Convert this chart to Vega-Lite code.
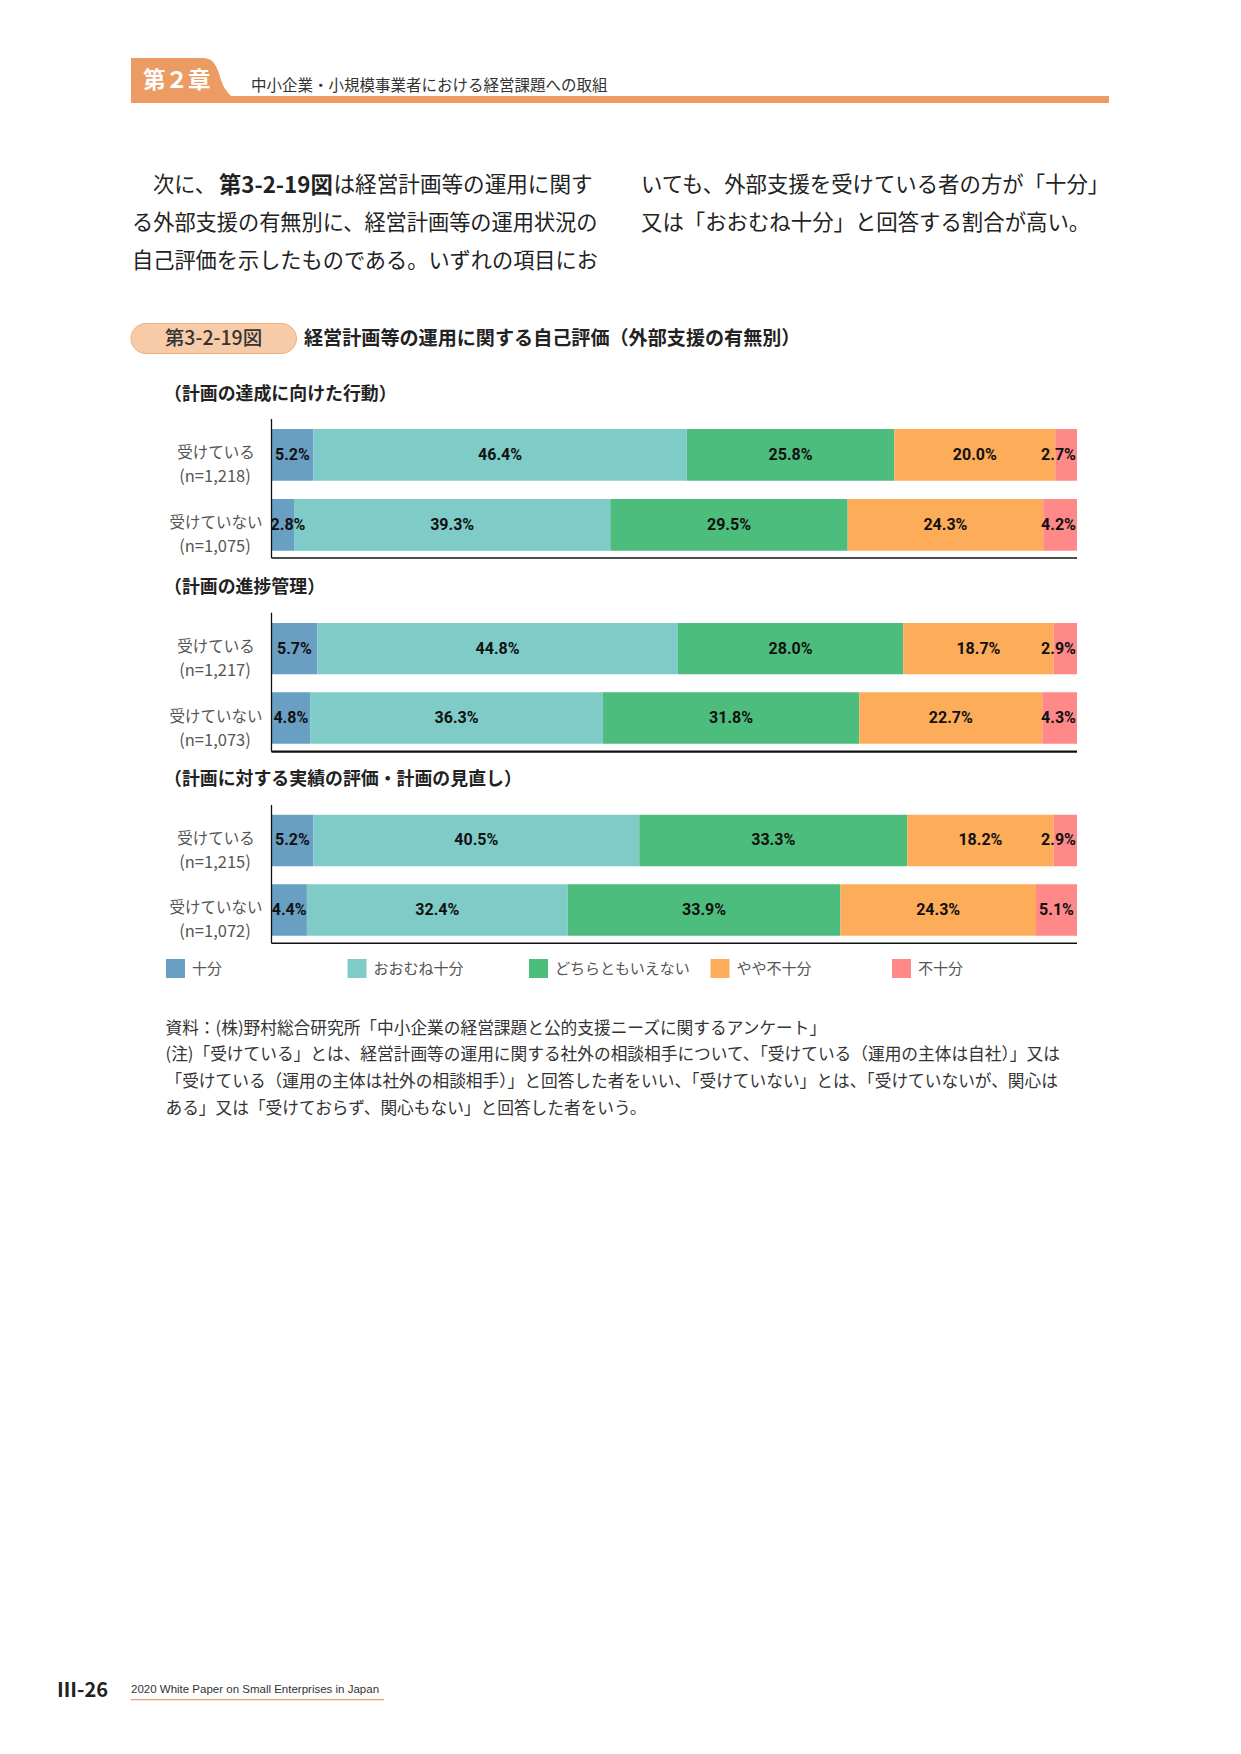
{
  "$schema": "https://vega.github.io/schema/vega-lite/v6.json",
  "width": 1241,
  "height": 1754,
  "autosize": "none",
  "padding": 0,
  "background": "white",
  "config": {
    "view": {"stroke": null},
    "text": {"font": "Noto Sans CJK JP", "color": "#222"}
  },
  "data": {"values": [{}]},
  "datasets": {
    "shares": [
      {"panel": 1, "group": "受けている", "cat": "十分", "pct": 5.2},
      {"panel": 1, "group": "受けている", "cat": "おおむね十分", "pct": 46.4},
      {"panel": 1, "group": "受けている", "cat": "どちらともいえない", "pct": 25.8},
      {"panel": 1, "group": "受けている", "cat": "やや不十分", "pct": 20.0},
      {"panel": 1, "group": "受けている", "cat": "不十分", "pct": 2.7},
      {"panel": 1, "group": "受けていない", "cat": "十分", "pct": 2.8},
      {"panel": 1, "group": "受けていない", "cat": "おおむね十分", "pct": 39.3},
      {"panel": 1, "group": "受けていない", "cat": "どちらともいえない", "pct": 29.5},
      {"panel": 1, "group": "受けていない", "cat": "やや不十分", "pct": 24.3},
      {"panel": 1, "group": "受けていない", "cat": "不十分", "pct": 4.2},
      {"panel": 2, "group": "受けている", "cat": "十分", "pct": 5.7},
      {"panel": 2, "group": "受けている", "cat": "おおむね十分", "pct": 44.8},
      {"panel": 2, "group": "受けている", "cat": "どちらともいえない", "pct": 28.0},
      {"panel": 2, "group": "受けている", "cat": "やや不十分", "pct": 18.7},
      {"panel": 2, "group": "受けている", "cat": "不十分", "pct": 2.9},
      {"panel": 2, "group": "受けていない", "cat": "十分", "pct": 4.8},
      {"panel": 2, "group": "受けていない", "cat": "おおむね十分", "pct": 36.3},
      {"panel": 2, "group": "受けていない", "cat": "どちらともいえない", "pct": 31.8},
      {"panel": 2, "group": "受けていない", "cat": "やや不十分", "pct": 22.7},
      {"panel": 2, "group": "受けていない", "cat": "不十分", "pct": 4.3},
      {"panel": 3, "group": "受けている", "cat": "十分", "pct": 5.2},
      {"panel": 3, "group": "受けている", "cat": "おおむね十分", "pct": 40.5},
      {"panel": 3, "group": "受けている", "cat": "どちらともいえない", "pct": 33.3},
      {"panel": 3, "group": "受けている", "cat": "やや不十分", "pct": 18.2},
      {"panel": 3, "group": "受けている", "cat": "不十分", "pct": 2.9},
      {"panel": 3, "group": "受けていない", "cat": "十分", "pct": 4.4},
      {"panel": 3, "group": "受けていない", "cat": "おおむね十分", "pct": 32.4},
      {"panel": 3, "group": "受けていない", "cat": "どちらともいえない", "pct": 33.9},
      {"panel": 3, "group": "受けていない", "cat": "やや不十分", "pct": 24.3},
      {"panel": 3, "group": "受けていない", "cat": "不十分", "pct": 5.1}
    ],
    "samples": [
      {"panel": 1, "group": "受けている", "n": 1218},
      {"panel": 1, "group": "受けていない", "n": 1075},
      {"panel": 2, "group": "受けている", "n": 1217},
      {"panel": 2, "group": "受けていない", "n": 1073},
      {"panel": 3, "group": "受けている", "n": 1215},
      {"panel": 3, "group": "受けていない", "n": 1072}
    ]
  },
  "resolve": {"scale": {"y": "independent"}},
  "layer": [
    {"mark": {"type": "rect", "x": 131, "x2": 1109, "y": 96, "y2": 103, "fill": "#EC9C62"}},
    {"mark": {"type": "point", "x": 183, "y": 79, "size": 14400, "filled": true, "fill": "#EC9C62", "opacity": 1, "strokeWidth": 0,
      "shape": "M -0.867 -0.35 L 0.333 -0.35 C 0.617 -0.35 0.583 0.017 0.717 0.183 C 0.783 0.283 0.85 0.333 0.95 0.333 L 0.95 0.35 L -0.867 0.35 Z"}},
    {"mark": {"type": "text", "text": "第２章", "x": 143, "y": 81, "align": "left", "baseline": "middle", "fontSize": 22.5, "fontWeight": "bold", "color": "white"}},
    {"mark": {"type": "text", "text": "中小企業・小規模事業者における経営課題への取組", "x": 251, "y": 85.5, "align": "left", "baseline": "middle", "fontSize": 15.5, "color": "#333"}},

    {"mark": {"type": "text", "text": "次に、", "x": 153, "y": 186, "align": "left", "baseline": "middle", "fontSize": 21.2}},
    {"mark": {"type": "text", "text": "第3-2-19図", "x": 219, "y": 186, "align": "left", "baseline": "middle", "fontSize": 22.3, "fontWeight": "bold"}},
    {"mark": {"type": "text", "text": "は経営計画等の運用に関す", "x": 333.5, "y": 186, "align": "left", "baseline": "middle", "fontSize": 21.6}},
    {"mark": {"type": "text", "text": "る外部支援の有無別に、経営計画等の運用状況の", "x": 132, "y": 224, "align": "left", "baseline": "middle", "fontSize": 21.2}},
    {"mark": {"type": "text", "text": "自己評価を示したものである。いずれの項目にお", "x": 132, "y": 262, "align": "left", "baseline": "middle", "fontSize": 21.2}},
    {"mark": {"type": "text", "text": "いても、外部支援を受けている者の方が「十分」", "x": 641, "y": 186, "align": "left", "baseline": "middle", "fontSize": 21.4}},
    {"mark": {"type": "text", "text": "又は「おおむね十分」と回答する割合が高い。", "x": 641, "y": 224, "align": "left", "baseline": "middle", "fontSize": 21.4}},

    {"mark": {"type": "rect", "x": 131, "x2": 296.5, "y": 323.5, "y2": 353.5, "cornerRadius": 15, "fill": "#F8CBA8", "stroke": "#EFAE82", "strokeWidth": 1}},
    {"mark": {"type": "text", "text": "第3-2-19図", "x": 213.5, "y": 338.5, "align": "center", "baseline": "middle", "fontSize": 19.5, "fontWeight": 500, "color": "#333"}},
    {"mark": {"type": "text", "text": "経営計画等の運用に関する自己評価（外部支援の有無別）", "x": 304, "y": 338.5, "align": "left", "baseline": "middle", "fontSize": 19.1, "fontWeight": "bold", "color": "#222"}},

    {"mark": {"type": "text", "text": "（計画の達成に向けた行動）", "x": 164, "y": 395, "align": "left", "baseline": "middle", "fontSize": 17.9, "fontWeight": "bold"}},
    {"mark": {"type": "text", "text": "（計画の進捗管理）", "x": 164, "y": 587.5, "align": "left", "baseline": "middle", "fontSize": 17.9, "fontWeight": "bold"}},
    {"mark": {"type": "text", "text": "（計画に対する実績の評価・計画の見直し）", "x": 164, "y": 780, "align": "left", "baseline": "middle", "fontSize": 17.9, "fontWeight": "bold"}},

    {
      "layer": [
        {
          "data": {"name": "shares"},
          "transform": [
            {"filter": "datum.panel == 1"},
            {"calculate": "indexof(['十分','おおむね十分','どちらともいえない','やや不十分','不十分'], datum.cat)", "as": "k"},
            {"stack": "pct", "groupby": ["group"], "sort": [{"field": "k", "order": "ascending"}], "offset": "normalize", "as": ["x0", "x1"]}
          ],
          "mark": {"type": "bar"},
          "encoding": {
            "x": {"field": "x0", "type": "quantitative", "scale": {"domain": [0, 1], "range": [271.5, 1077], "nice": false}, "axis": null},
            "x2": {"field": "x1"},
            "y": {"field": "group", "type": "nominal", "scale": {"domain": ["受けている", "受けていない"], "range": [429, 550.7], "paddingInner": 0.26, "paddingOuter": 0}, "axis": null},
            "color": {
              "field": "cat", "type": "nominal",
              "scale": {"domain": ["十分", "おおむね十分", "どちらともいえない", "やや不十分", "不十分"], "range": ["#6A9FC4", "#7FCBC8", "#4CBD7D", "#FDAC5A", "#FF8888"]},
              "legend": {"title": null, "orient": "none", "legendX": 166, "legendY": 959, "direction": "horizontal", "columns": 5, "gridAlign": "all", "columnPadding": 19.5, "padding": 0, "symbolType": "square", "symbolSize": 361, "symbolStrokeWidth": 0, "symbolOpacity": 1, "labelOffset": 7, "labelFont": "Noto Sans CJK JP", "labelFontSize": 15, "labelColor": "#555", "labelLimit": 400}
            }
          }
        },
        {
          "data": {"name": "shares"},
          "transform": [
            {"filter": "datum.panel == 1"},
            {"calculate": "indexof(['十分','おおむね十分','どちらともいえない','やや不十分','不十分'], datum.cat)", "as": "k"},
            {"stack": "pct", "groupby": ["group"], "sort": [{"field": "k", "order": "ascending"}], "offset": "normalize", "as": ["x0", "x1"]},
            {"calculate": "clamp((datum.x0 + datum.x1) / 2, 0.0205, 0.977)", "as": "xm"},
            {"calculate": "format(datum.pct, '.1f') + '%'", "as": "label"}
          ],
          "mark": {"type": "text", "align": "center", "baseline": "middle", "fontSize": 16, "fontWeight": "bold", "color": "#111", "font": "Roboto, sans-serif"},
          "encoding": {
            "x": {"field": "xm", "type": "quantitative", "scale": {"domain": [0, 1], "range": [271.5, 1077], "nice": false}, "axis": null},
            "y": {"field": "group", "type": "nominal", "axis": null},
            "text": {"field": "label"}
          }
        },
        {
          "data": {"name": "samples"},
          "transform": [{"filter": "datum.panel == 1"}],
          "mark": {"type": "text", "x": 216, "align": "center", "baseline": "middle", "dy": -1.5, "fontSize": 15.5, "color": "#555"},
          "encoding": {"y": {"field": "group", "type": "nominal", "axis": null}, "text": {"field": "group"}}
        },
        {
          "data": {"name": "samples"},
          "transform": [{"filter": "datum.panel == 1"}, {"calculate": "'(n=' + format(datum.n, ',') + ')'", "as": "nlabel"}],
          "mark": {"type": "text", "x": 215, "align": "center", "baseline": "middle", "dy": 22.5, "fontSize": 16.5, "color": "#555"},
          "encoding": {"y": {"field": "group", "type": "nominal", "axis": null}, "text": {"field": "nlabel"}}
        }
      ]
    },
    {
      "layer": [
        {
          "data": {"name": "shares"},
          "transform": [
            {"filter": "datum.panel == 2"},
            {"calculate": "indexof(['十分','おおむね十分','どちらともいえない','やや不十分','不十分'], datum.cat)", "as": "k"},
            {"stack": "pct", "groupby": ["group"], "sort": [{"field": "k", "order": "ascending"}], "offset": "normalize", "as": ["x0", "x1"]}
          ],
          "mark": {"type": "bar"},
          "encoding": {
            "x": {"field": "x0", "type": "quantitative", "scale": {"domain": [0, 1], "range": [271.5, 1077], "nice": false}, "axis": null},
            "x2": {"field": "x1"},
            "y": {"field": "group", "type": "nominal", "scale": {"domain": ["受けている", "受けていない"], "range": [623, 743.7], "paddingInner": 0.26, "paddingOuter": 0}, "axis": null},
            "color": {
              "field": "cat", "type": "nominal",
              "scale": {"domain": ["十分", "おおむね十分", "どちらともいえない", "やや不十分", "不十分"], "range": ["#6A9FC4", "#7FCBC8", "#4CBD7D", "#FDAC5A", "#FF8888"]},
              "legend": {"title": null, "orient": "none", "legendX": 166, "legendY": 959, "direction": "horizontal", "columns": 5, "gridAlign": "all", "columnPadding": 19.5, "padding": 0, "symbolType": "square", "symbolSize": 361, "symbolStrokeWidth": 0, "symbolOpacity": 1, "labelOffset": 7, "labelFont": "Noto Sans CJK JP", "labelFontSize": 15, "labelColor": "#555", "labelLimit": 400}
            }
          }
        },
        {
          "data": {"name": "shares"},
          "transform": [
            {"filter": "datum.panel == 2"},
            {"calculate": "indexof(['十分','おおむね十分','どちらともいえない','やや不十分','不十分'], datum.cat)", "as": "k"},
            {"stack": "pct", "groupby": ["group"], "sort": [{"field": "k", "order": "ascending"}], "offset": "normalize", "as": ["x0", "x1"]},
            {"calculate": "clamp((datum.x0 + datum.x1) / 2, 0.0205, 0.977)", "as": "xm"},
            {"calculate": "format(datum.pct, '.1f') + '%'", "as": "label"}
          ],
          "mark": {"type": "text", "align": "center", "baseline": "middle", "fontSize": 16, "fontWeight": "bold", "color": "#111", "font": "Roboto, sans-serif"},
          "encoding": {
            "x": {"field": "xm", "type": "quantitative", "scale": {"domain": [0, 1], "range": [271.5, 1077], "nice": false}, "axis": null},
            "y": {"field": "group", "type": "nominal", "axis": null},
            "text": {"field": "label"}
          }
        },
        {
          "data": {"name": "samples"},
          "transform": [{"filter": "datum.panel == 2"}],
          "mark": {"type": "text", "x": 216, "align": "center", "baseline": "middle", "dy": -1.5, "fontSize": 15.5, "color": "#555"},
          "encoding": {"y": {"field": "group", "type": "nominal", "axis": null}, "text": {"field": "group"}}
        },
        {
          "data": {"name": "samples"},
          "transform": [{"filter": "datum.panel == 2"}, {"calculate": "'(n=' + format(datum.n, ',') + ')'", "as": "nlabel"}],
          "mark": {"type": "text", "x": 215, "align": "center", "baseline": "middle", "dy": 22.5, "fontSize": 16.5, "color": "#555"},
          "encoding": {"y": {"field": "group", "type": "nominal", "axis": null}, "text": {"field": "nlabel"}}
        }
      ]
    },
    {
      "layer": [
        {
          "data": {"name": "shares"},
          "transform": [
            {"filter": "datum.panel == 3"},
            {"calculate": "indexof(['十分','おおむね十分','どちらともいえない','やや不十分','不十分'], datum.cat)", "as": "k"},
            {"stack": "pct", "groupby": ["group"], "sort": [{"field": "k", "order": "ascending"}], "offset": "normalize", "as": ["x0", "x1"]}
          ],
          "mark": {"type": "bar"},
          "encoding": {
            "x": {"field": "x0", "type": "quantitative", "scale": {"domain": [0, 1], "range": [271.5, 1077], "nice": false}, "axis": null},
            "x2": {"field": "x1"},
            "y": {"field": "group", "type": "nominal", "scale": {"domain": ["受けている", "受けていない"], "range": [814.7, 935.7], "paddingInner": 0.26, "paddingOuter": 0}, "axis": null},
            "color": {
              "field": "cat", "type": "nominal",
              "scale": {"domain": ["十分", "おおむね十分", "どちらともいえない", "やや不十分", "不十分"], "range": ["#6A9FC4", "#7FCBC8", "#4CBD7D", "#FDAC5A", "#FF8888"]},
              "legend": {"title": null, "orient": "none", "legendX": 166, "legendY": 959, "direction": "horizontal", "columns": 5, "gridAlign": "all", "columnPadding": 19.5, "padding": 0, "symbolType": "square", "symbolSize": 361, "symbolStrokeWidth": 0, "symbolOpacity": 1, "labelOffset": 7, "labelFont": "Noto Sans CJK JP", "labelFontSize": 15, "labelColor": "#555", "labelLimit": 400}
            }
          }
        },
        {
          "data": {"name": "shares"},
          "transform": [
            {"filter": "datum.panel == 3"},
            {"calculate": "indexof(['十分','おおむね十分','どちらともいえない','やや不十分','不十分'], datum.cat)", "as": "k"},
            {"stack": "pct", "groupby": ["group"], "sort": [{"field": "k", "order": "ascending"}], "offset": "normalize", "as": ["x0", "x1"]},
            {"calculate": "clamp((datum.x0 + datum.x1) / 2, 0.0205, 0.977)", "as": "xm"},
            {"calculate": "format(datum.pct, '.1f') + '%'", "as": "label"}
          ],
          "mark": {"type": "text", "align": "center", "baseline": "middle", "fontSize": 16, "fontWeight": "bold", "color": "#111", "font": "Roboto, sans-serif"},
          "encoding": {
            "x": {"field": "xm", "type": "quantitative", "scale": {"domain": [0, 1], "range": [271.5, 1077], "nice": false}, "axis": null},
            "y": {"field": "group", "type": "nominal", "axis": null},
            "text": {"field": "label"}
          }
        },
        {
          "data": {"name": "samples"},
          "transform": [{"filter": "datum.panel == 3"}],
          "mark": {"type": "text", "x": 216, "align": "center", "baseline": "middle", "dy": -1.5, "fontSize": 15.5, "color": "#555"},
          "encoding": {"y": {"field": "group", "type": "nominal", "axis": null}, "text": {"field": "group"}}
        },
        {
          "data": {"name": "samples"},
          "transform": [{"filter": "datum.panel == 3"}, {"calculate": "'(n=' + format(datum.n, ',') + ')'", "as": "nlabel"}],
          "mark": {"type": "text", "x": 215, "align": "center", "baseline": "middle", "dy": 22.5, "fontSize": 16.5, "color": "#555"},
          "encoding": {"y": {"field": "group", "type": "nominal", "axis": null}, "text": {"field": "nlabel"}}
        }
      ]
    },

    {"mark": {"type": "rule", "color": "#111", "strokeWidth": 1.3}, "encoding": {"x": {"datum": 0, "type": "quantitative", "axis": null}, "y": {"value": 419}, "y2": {"value": 558}}},
    {"mark": {"type": "rule", "color": "#111", "strokeWidth": 1.6}, "encoding": {"x": {"datum": 0, "type": "quantitative", "axis": null}, "x2": {"datum": 1}, "y": {"value": 558}}},
    {"mark": {"type": "rule", "color": "#111", "strokeWidth": 1.3}, "encoding": {"x": {"datum": 0, "type": "quantitative", "axis": null}, "y": {"value": 612.7}, "y2": {"value": 751.7}}},
    {"mark": {"type": "rule", "color": "#111", "strokeWidth": 2.3}, "encoding": {"x": {"datum": 0, "type": "quantitative", "axis": null}, "x2": {"datum": 1}, "y": {"value": 751.7}}},
    {"mark": {"type": "rule", "color": "#111", "strokeWidth": 1.3}, "encoding": {"x": {"datum": 0, "type": "quantitative", "axis": null}, "y": {"value": 805}, "y2": {"value": 943.3}}},
    {"mark": {"type": "rule", "color": "#111", "strokeWidth": 1.6}, "encoding": {"x": {"datum": 0, "type": "quantitative", "axis": null}, "x2": {"datum": 1}, "y": {"value": 943.3}}},

    {"mark": {"type": "text", "text": "資料：(株)野村総合研究所「中小企業の経営課題と公的支援ニーズに関するアンケート」", "x": 165.5, "y": 1028.5, "align": "left", "baseline": "middle", "fontSize": 16.7, "color": "#333"}},
    {"mark": {"type": "text", "text": "(注)「受けている」とは、経営計画等の運用に関する社外の相談相手について、「受けている（運用の主体は自社）」又は", "x": 165.5, "y": 1055.3, "align": "left", "baseline": "middle", "fontSize": 16.7, "color": "#333"}},
    {"mark": {"type": "text", "text": "「受けている（運用の主体は社外の相談相手）」と回答した者をいい、「受けていない」とは、「受けていないが、関心は", "x": 165.5, "y": 1082, "align": "left", "baseline": "middle", "fontSize": 16.7, "color": "#333"}},
    {"mark": {"type": "text", "text": "ある」又は「受けておらず、関心もない」と回答した者をいう。", "x": 165.5, "y": 1109, "align": "left", "baseline": "middle", "fontSize": 16.7, "color": "#333"}},

    {"mark": {"type": "text", "text": "Ⅲ-26", "x": 57, "y": 1690.5, "align": "left", "baseline": "middle", "fontSize": 20, "fontWeight": "bold", "font": "Noto Sans CJK JP", "color": "#222"}},
    {"mark": {"type": "text", "text": "2020 White Paper on Small Enterprises in Japan", "x": 131, "y": 1690, "align": "left", "baseline": "middle", "fontSize": 11.5, "font": "Liberation Sans", "color": "#333"}},
    {"mark": {"type": "rect", "x": 131, "x2": 384, "y": 1699, "y2": 1700.3, "fill": "#EC9C62"}}
  ]
}
